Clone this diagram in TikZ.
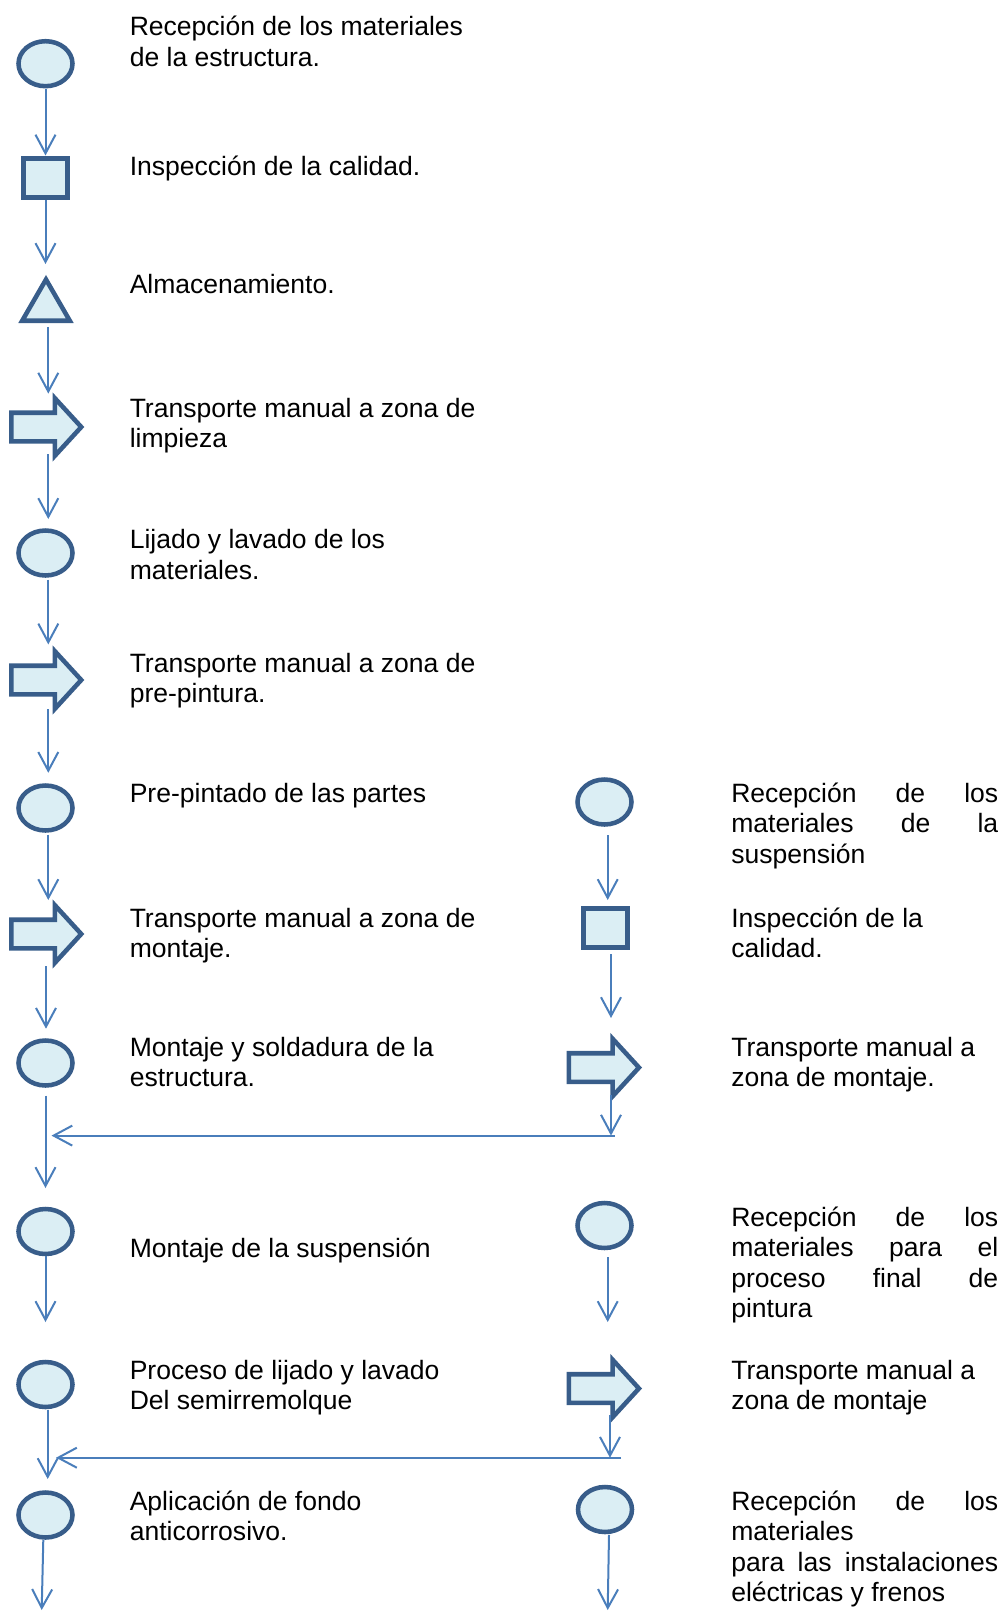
\documentclass[tikz,border=0pt]{standalone}
\usepackage{fontspec}
\setmainfont{Liberation Sans}
\usetikzlibrary{shapes.geometric,shapes.arrows,arrows.meta,calc}
\definecolor{sdark}{RGB}{56,93,138}
\definecolor{sfill}{RGB}{219,238,244}
\definecolor{cline}{RGB}{74,126,187}
\tikzset{
  shapebase/.style={draw=sdark, fill=sfill, line width=3.4pt, inner sep=0pt},
  oval/.style={shapebase, ellipse, minimum width=40.5pt, minimum height=33.75pt},
  sq/.style={shapebase, rectangle, line width=3.6pt, minimum width=33pt, minimum height=29.25pt},
  tri/.style={shapebase, regular polygon, regular polygon sides=3, minimum size=41.25pt},
  barrow/.style={shapebase, single arrow, anchor=tail, inner xsep=0pt, inner ysep=9pt,
    minimum height=52.5pt, single arrow head extend=10.9pt, single arrow tip angle=95},
  conn/.style={draw=cline, line width=1.5pt, -{Straight Barb[length=14pt,width=15pt]}},
  lbl/.style={anchor=base west, inner sep=0pt, font=\fontsize{19.9pt}{22.9pt}\selectfont}
}
% vertical connector: from A to B, x taken from node X plus an offset (px),
% trimmed at both ends (px)
\newcommand\vconn[6]{%
  \draw[conn, shorten <=#5*0.75pt, shorten >=#6*0.75pt]
    let \p1=(#1.center), \p2=(#2.center), \p3=(#3.center) in
    (\x3+#4*0.75pt,\y1) -- (\x3+#4*0.75pt,\y2);}
\newcommand\jline[1]{\makebox[\linewidth][s]{#1}}

\begin{document}
\begin{tikzpicture}[x=0.75pt,y=-0.75pt]
\useasboundingbox (0,0) rectangle (1003,1612);

% left column
\node[oval]   (L1)  at (45.5,63.7)   {};
\node[sq]     (L2)  at (45.5,178)    {};
\node[tri]    (L3)  at (46,307)      {};
\node[barrow] (L4)  at (9,427)       {};
\node[oval]   (L5)  at (45.5,553)    {};
\node[barrow] (L6)  at (9,680)       {};
\node[oval]   (L7)  at (45.5,808)    {};
\node[barrow] (L8)  at (9,934)       {};
\node[oval]   (L9)  at (45.5,1063)   {};
\node[oval]   (L10) at (45.5,1231.5) {};
\node[oval]   (L11) at (45.5,1384.5) {};
\node[oval]   (L12) at (45.5,1515)   {};

% right column
\node[oval]   (R1) at (604.5,802)    {};
\node[sq]     (R2) at (605.3,928.3)  {};
\node[barrow] (R3) at (566.7,1067.5) {};
\node[oval]   (R4) at (604.5,1225.5) {};
\node[barrow] (R5) at (566.7,1388.5) {};
\node[oval]   (R6) at (605,1509.5)   {};

% labels, left
\node[lbl] (T1)  at (129.5,35.5) {\parbox[t]{330pt}{Recepción de los materiales\\de la estructura.}};
\node[lbl] (T2)  at (129.5,175.5) {Inspección de la calidad.};
\node[lbl] (T3)  at (129.5,293.5) {Almacenamiento.};
\node[lbl] (T4)  at (129.5,417) {\parbox[t]{330pt}{Transporte manual a zona de\\limpieza}};
\node[lbl] (T5)  at (129.5,548.5) {\parbox[t]{330pt}{Lijado y lavado de los\\materiales.}};
\node[lbl] (T6)  at (129.5,672) {\parbox[t]{330pt}{Transporte manual a zona de\\pre-pintura.}};
\node[lbl] (T7)  at (129.5,802) {Pre-pintado de las partes};
\node[lbl] (T8)  at (129.5,927) {\parbox[t]{330pt}{Transporte manual a zona de\\montaje.}};
\node[lbl] (T9)  at (129.5,1056) {\parbox[t]{330pt}{Montaje y soldadura de la\\estructura.}};
\node[lbl] (T10) at (129.5,1257) {Montaje de la suspensión};
\node[lbl] (T11) at (129.5,1379) {\parbox[t]{330pt}{Proceso de lijado y lavado\\Del semirremolque}};
\node[lbl] (T12) at (129.5,1510) {\parbox[t]{330pt}{Aplicación de fondo\\anticorrosivo.}};

% labels, right
\node[lbl] (U1) at (731,802) {\parbox[t]{200.25pt}{\jline{Recepción de los}\\\jline{materiales de la}\\suspensión}};
\node[lbl] (U2) at (731,927) {\parbox[t]{200.25pt}{Inspección de la\\calidad.}};
\node[lbl] (U3) at (731,1056) {\parbox[t]{200.25pt}{Transporte manual a\\zona de montaje.}};
\node[lbl] (U4) at (731,1226) {\parbox[t]{200.25pt}{\jline{Recepción de los}\\\jline{materiales para el}\\\jline{proceso final de}\\pintura}};
\node[lbl] (U5) at (731,1379) {\parbox[t]{200.25pt}{Transporte manual a\\zona de montaje}};
\node[lbl] (U6) at (731,1510) {\parbox[t]{200.25pt}{\jline{Recepción de los}\\materiales\\\jline{para las instalaciones}\\eléctricas y frenos}};

% junction points of the return lines and open ends
\coordinate (J1)   at (614.6,1135.6);
\coordinate (J2)   at (621,1457.7);
\coordinate (Lend) at (41.7,1610);
\coordinate (Rend) at (607.7,1610);

% left flow
\vconn{L1}{L2}{L1}{0}{25.3}{22.5}
\vconn{L2}{L3}{L2}{0}{22.4}{43}
\vconn{L3}{L4}{L3}{2.3}{19.8}{33.4}
\vconn{L4}{L5}{L5}{2.8}{27}{34}
\vconn{L5}{L6}{L5}{2.8}{26.6}{35.6}
\vconn{L6}{L7}{L7}{2.8}{29}{35.2}
\vconn{L7}{L8}{L7}{2.8}{26.5}{34}
\vconn{L8}{L9}{L9}{0.5}{32}{34.3}
\vconn{L9}{L10}{L9}{0}{32.5}{43.5}
\vconn{L10}{L11}{L10}{0}{24.5}{62.5}
\vconn{L11}{L12}{L11}{2.2}{25.5}{36}
\draw[conn] let \p1=(L12.center) in (\x1-1.65pt,\y1-18.75pt) -- (Lend);

% right flow
\vconn{R1}{R2}{R1}{3.2}{33}{28.3}
\vconn{R2}{R3}{R2}{5.7}{25.7}{49.5}
\vconn{R3}{J1}{R2}{5.7}{27.5}{0}
\vconn{R4}{R5}{R4}{3.2}{31.5}{66.5}
\vconn{R5}{J2}{R4}{5.5}{26.5}{0}
\draw[conn] let \p1=(R6.center) in (\x1+3pt,\y1-19.1pt) -- (Rend);

% return lines into the main flow
\draw[conn, shorten >=4.5pt] (J1) -- (J1 -| L9.center);
\draw[conn, shorten >=7.9pt] (J2) -- (J2 -| L11.center);
\end{tikzpicture}
\end{document}
